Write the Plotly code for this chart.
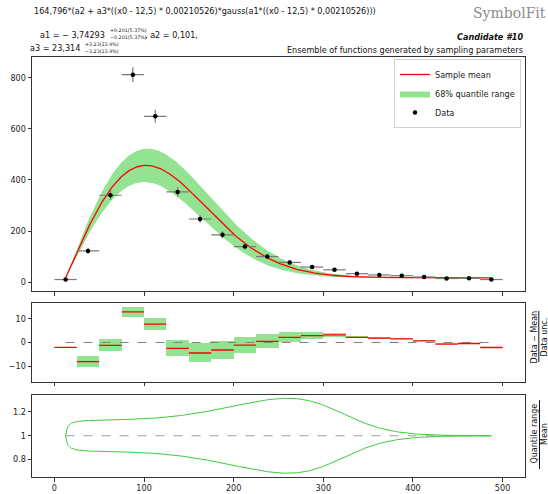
import numpy as np
import plotly.graph_objects as go

# ---- binned data -------------------------------------------------------
bin_centers = [12.5, 37.5, 62.5, 87.5, 112.5, 137.5, 162.5, 187.5, 212.5, 237.5,
               262.5, 287.5, 312.5, 337.5, 362.5, 387.5, 412.5, 437.5, 462.5, 487.5]
bin_half_width = 12.5
counts = [10, 122, 340, 812, 649, 353, 247, 185, 139, 100,
          77, 59, 48, 33, 28, 25, 20, 14, 15, 10]

# ---- fitted function parameters ---------------------------------------
norm = 164.796
x_shift = 12.5
x_scale = 0.00210526
a1, a1_err = -3.74293, 0.201
a2 = 0.101
a3, a3_err = 23.314, 3.23

x_ticks = [0, 100, 200, 300, 400, 500]

xc = np.array(bin_centers, dtype=float)
y = np.array(counts, dtype=float)
y_unc = np.sqrt(y)


def model(x):
    t = (x - x_shift) * x_scale
    g = np.exp(-(a1 * t) ** 2)
    f = norm * (a2 + a3 * t * g)
    # parameter derivatives for the uncertainty band
    df_da1 = norm * a3 * t * g * (-2.0 * a1 * t ** 2)
    df_da3 = norm * t * g
    sig = np.sqrt((df_da1 * a1_err) ** 2 + (df_da3 * a3_err) ** 2)
    return f, f - sig, f + sig


xs = np.linspace(xc[0], xc[-1], 500)
mean, lo, hi = model(xs)
mean_c, lo_c, hi_c = model(xc)

resid = (y - mean_c) / y_unc
res_lo = (y - hi_c) / y_unc
res_hi = (y - lo_c) / y_unc

W, H = 548, 494
def px(v): return v / W
def py(v): return 1 - v / H

XL, XR = 32, 525
dom_x = [px(XL), px(XR)]
dom_main = [py(291), py(56.7)]
dom_res = [py(381.7), py(303.3)]
dom_rat = [py(477), py(394.5)]

GREEN_BAND = "#93e393"
FONT = "DejaVu Sans"
FS = 8.1

fig = go.Figure()

# main panel
fig.add_trace(go.Scatter(x=xs, y=lo, mode="lines", line=dict(width=0),
                         showlegend=False, hoverinfo="skip", xaxis="x", yaxis="y"))
fig.add_trace(go.Scatter(x=xs, y=hi, mode="lines", line=dict(width=0),
                         fill="tonexty", fillcolor=GREEN_BAND,
                         name="68% quantile range", legendrank=2,
                         xaxis="x", yaxis="y"))
fig.add_trace(go.Scatter(x=xs, y=mean, mode="lines", line=dict(color="red", width=1.3),
                         name="Sample mean", legendrank=1, xaxis="x", yaxis="y"))
fig.add_trace(go.Scatter(x=xc, y=y, mode="markers",
                         marker=dict(color="black", size=4.5),
                         error_x=dict(type="constant", value=bin_half_width,
                                      color="#7a7a7a", thickness=1.2, width=0),
                         error_y=dict(type="data", array=y_unc,
                                      color="#7a7a7a", thickness=1.2, width=0),
                         name="Data", legendrank=3, xaxis="x", yaxis="y"))

# residual panel
fig.add_trace(go.Bar(x=xc, y=res_hi - res_lo, base=res_lo, width=2 * bin_half_width,
                     marker=dict(color=GREEN_BAND, line=dict(width=0)),
                     showlegend=False, xaxis="x2", yaxis="y2"))
fig.add_trace(go.Scatter(x=[xc[0], xc[-1]], y=[0, 0], mode="lines",
                         line=dict(color="gray", width=1, dash="dash"),
                         showlegend=False, xaxis="x2", yaxis="y2"))
seg_x, seg_y = [], []
for c, r in zip(xc, resid):
    seg_x += [c - bin_half_width, c + bin_half_width, None]
    seg_y += [r, r, None]
fig.add_trace(go.Scatter(x=seg_x, y=seg_y, mode="lines",
                         line=dict(color="red", width=1.3),
                         showlegend=False, xaxis="x2", yaxis="y2"))

# ratio panel
fig.add_trace(go.Scatter(x=[xs[0], xs[-1]], y=[1, 1], mode="lines",
                         line=dict(color="#a0a0a0", width=1, dash="dash"),
                         showlegend=False, xaxis="x3", yaxis="y3"))
fig.add_trace(go.Scatter(x=xs, y=hi / mean, mode="lines",
                         line=dict(color="#3ccc3c", width=1),
                         showlegend=False, xaxis="x3", yaxis="y3"))
fig.add_trace(go.Scatter(x=xs, y=lo / mean, mode="lines",
                         line=dict(color="#3ccc3c", width=1),
                         showlegend=False, xaxis="x3", yaxis="y3"))

# axis ranges with matplotlib-like margins
ymin = float(np.min(y - y_unc)); ymax = float(np.max(y + y_unc))
pad = 0.05 * (ymax - ymin)
main_range = [ymin - pad, ymax + pad]
rlim = 1.1 * float(max(np.abs(res_lo).max(), np.abs(res_hi).max()))
rmin = float((lo / mean).min()); rmax = float((hi / mean).max())
rpad = 0.05 * (rmax - rmin)

ax_common = dict(showline=True, mirror=True, linecolor="#333", linewidth=1,
                 ticks="outside", ticklen=3.5, tickcolor="#333", tickwidth=1,
                 showgrid=False, zeroline=False,
                 tickfont=dict(family=FONT, size=FS, color="#222"))
xcommon = dict(ax_common, range=[-25, 525], domain=dom_x, tickvals=x_ticks)

fig.update_layout(
    width=W, height=H, margin=dict(l=0, r=0, t=0, b=0),
    paper_bgcolor="white", plot_bgcolor="white",
    barmode="overlay", bargap=0,
    xaxis=dict(xcommon, anchor="y", showticklabels=False),
    yaxis=dict(ax_common, domain=dom_main, range=main_range, anchor="x",
               tickvals=[0, 200, 400, 600, 800]),
    xaxis2=dict(xcommon, anchor="y2", showticklabels=False, matches="x"),
    yaxis2=dict(ax_common, domain=dom_res, range=[-rlim, rlim], anchor="x2",
                tickvals=[-10, 0, 10]),
    xaxis3=dict(xcommon, anchor="y3", matches="x"),
    yaxis3=dict(ax_common, domain=dom_rat, range=[rmin - rpad, rmax + rpad], anchor="x3",
                tickvals=[0.8, 1, 1.2]),
    legend=dict(x=px(521), y=py(59), xanchor="right", yanchor="top",
                bgcolor="white", bordercolor="#d0d0d0", borderwidth=1,
                font=dict(family=FONT, size=FS, color="#222"),
                traceorder="normal", tracegroupgap=0, itemwidth=30),
    showlegend=True,
)

ann = []
def text(x, y0, s, size=FS, xanchor="left", color="#111", family=FONT, angle=0):
    ann.append(dict(x=px(x), y=py(y0), xref="paper", yref="paper", text=s,
                    showarrow=False, xanchor=xanchor, yanchor="middle",
                    textangle=angle, font=dict(family=family, size=size, color=color)))

text(32, 11.5, "164,796*(a2 + a3*((x0 - 12,5) * 0,00210526)*gauss(a1*((x0 - 12,5) * 0,00210526)))")
text(548, 12.5, "SymbolFit", size=14, xanchor="right", color="#8c8c8c", family="DejaVu Serif")

SS = 4.8
text(107, 34.5, "a1 = − 3,74293", xanchor="right")
text(107.5, 31.0, "+0.201(5.37%)", size=SS)
text(107.5, 38.0, "−0.201(5.37%)", size=SS)
text(143, 34.5, ", a2 = 0,101,")
text(82, 48.0, "a3 = 23,314", xanchor="right")
text(82.5, 44.5, "+3.23(13.9%)", size=SS)
text(82.5, 51.5, "−3.23(13.9%)", size=SS)

text(XR, 37, "<b><i>Candidate #10</i></b>", xanchor="right")
text(XR, 50, "Ensemble of functions generated by sampling parameters", xanchor="right")

# fraction-style axis labels on the right
text(533.5, 337, "Data − Mean", size=8, xanchor="center", angle=-90)
text(543.5, 337, "Data unc.", size=8, xanchor="center", angle=-90)
text(533.5, 434, "Quantile range", size=8, xanchor="center", angle=-90)
text(544, 434, "Mean", size=8, xanchor="center", angle=-90)

fig.update_layout(annotations=ann, shapes=[
    dict(type="line", xref="paper", yref="paper", x0=px(538.8), x1=px(538.8),
         y0=py(311), y1=py(362), line=dict(color="#111", width=1)),
    dict(type="line", xref="paper", yref="paper", x0=px(539.5), x1=px(539.5),
         y0=py(400), y1=py(469), line=dict(color="#111", width=1)),
])

fig.write_html("out.html")
